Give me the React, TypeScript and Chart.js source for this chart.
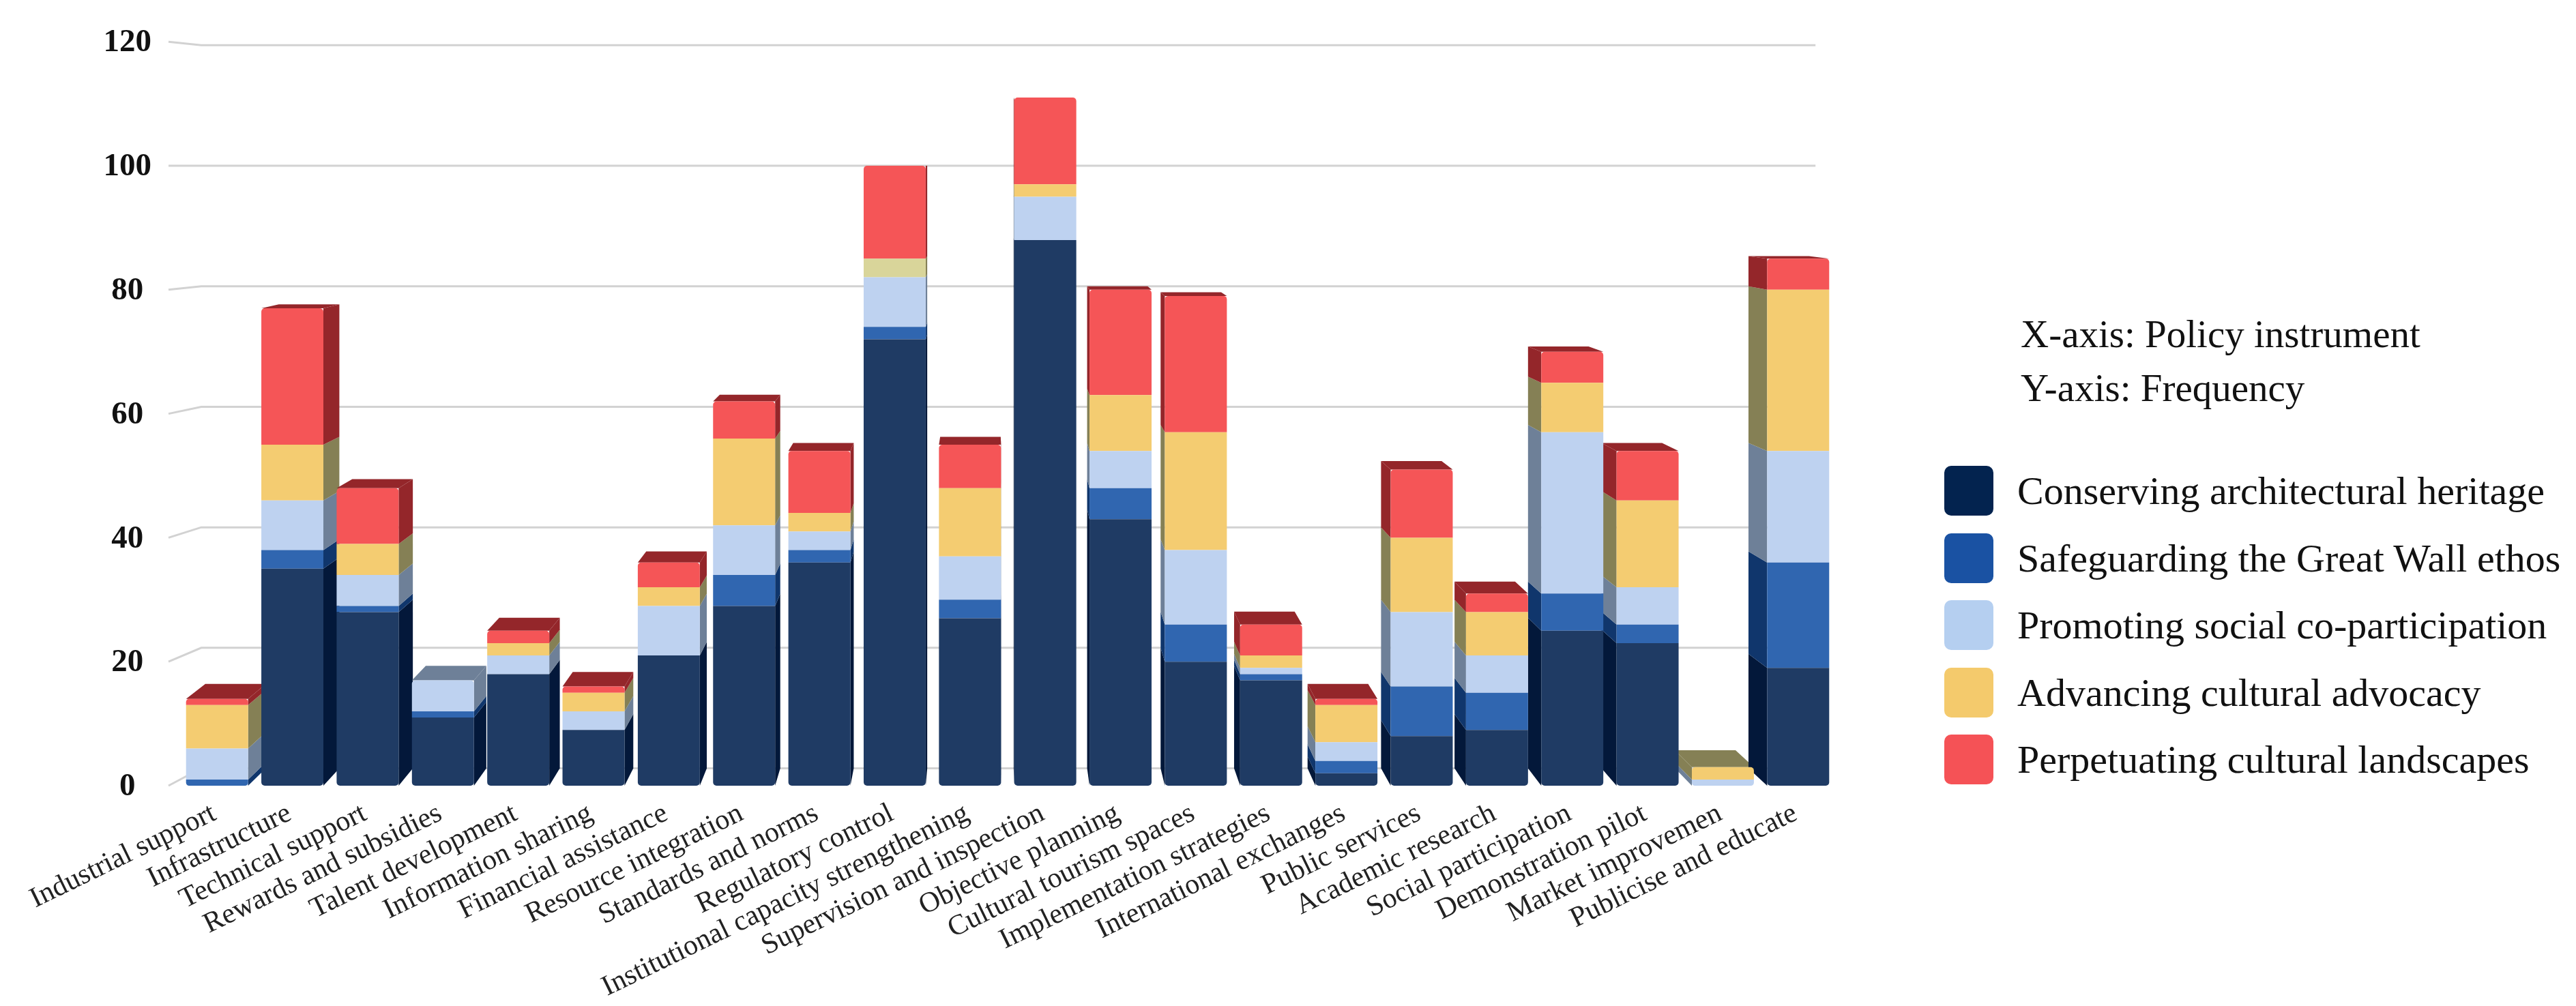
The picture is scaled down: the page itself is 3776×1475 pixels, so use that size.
import React, { useEffect, useRef } from "react";
import { Chart, registerables } from "chart.js";

Chart.register(...registerables);

const categories = [
  "Industrial support", "Infrastructure", "Technical support", "Rewards and subsidies",
  "Talent development", "Information sharing", "Financial assistance", "Resource integration",
  "Standards and norms", "Regulatory control", "Institutional capacity strengthening",
  "Supervision and inspection", "Objective planning", "Cultural tourism spaces",
  "Implementation strategies", "International exchanges", "Public services", "Academic research",
  "Social participation", "Demonstration pilot", "Market improvemen", "Publicise and educate",
];
const seriesNames = [
  "Conserving architectural heritage", "Safeguarding the Great Wall ethos",
  "Promoting social co-participation", "Advancing cultural advocacy", "Perpetuating cultural landscapes",
];
const conserving = [0, 35, 28, 11, 18, 9, 21, 29, 36, 72, 27, 88, 43, 20, 17, 2, 8, 9, 25, 23, 0, 19];
const safeguarding = [1, 3, 1, 1, 0, 0, 0, 5, 2, 2, 3, 0, 5, 6, 1, 2, 8, 6, 6, 3, 0, 17];
const promoting = [5, 8, 5, 5, 3, 3, 8, 8, 3, 8, 7, 7, 6, 12, 1, 3, 12, 6, 26, 6, 1, 18];
const advancing = [7, 9, 5, 0, 2, 3, 3, 14, 3, 3, 11, 2, 9, 19, 2, 6, 12, 7, 8, 14, 2, 26];
const perpetuating = [1, 22, 9, 0, 2, 1, 4, 6, 10, 15, 7, 14, 17, 22, 5, 1, 11, 3, 5, 8, 0, 5];
const seriesValues = [conserving, safeguarding, promoting, advancing, perpetuating];
const frontColors = ["#1f3b64", "#3066b0", "#bed2f0", "#f4cc71", "#f55557"];
const sideColors = ["#03183a", "#10366c", "#6e8098", "#858055", "#94262a"];
const legendColors = ["#03234f", "#1a52a3", "#b5cff0", "#f4ca6c", "#f55256"];
const paleYellow = "#d9d59a";
const paleYellowIndex = 9;
const axisNotes = ["X-axis: Policy instrument", "Y-axis: Frequency"];

const FONT = '"Liberation Serif", serif';
const VANISH_X = 1450;
const VANISH_VALUE = 100;
const DEPTH_X = 0.024;
const DEPTH_Y = 0.028;
const CORNER = 5;

const firstIn = (j: number) => seriesValues.findIndex((v) => v[j] > 0);
const lastIn = (j: number) => {
  for (let i = seriesValues.length - 1; i >= 0; i--) if (seriesValues[i][j] > 0) return i;
  return -1;
};

const depthPlugin = {
  id: "depth",
  beforeDatasetsDraw(chart: any) {
    const { ctx, chartArea, scales } = chart;
    const vy = scales.y.getPixelForValue(VANISH_VALUE);
    const bx = (x: number) => x + (VANISH_X - x) * DEPTH_X;
    const by = (y: number) => y + (vy - y) * DEPTH_Y;
    ctx.save();
    // back wall gridlines with the short slanted stubs toward the axis labels
    ctx.strokeStyle = "#d2d2d2";
    ctx.lineWidth = 3;
    scales.y.ticks.forEach((t: any) => {
      const y = scales.y.getPixelForValue(t.value);
      ctx.beginPath();
      ctx.moveTo(chartArea.left - 16, y);
      ctx.lineTo(chartArea.left + 32, by(y));
      ctx.lineTo(bx(chartArea.right), by(y));
      ctx.stroke();
    });
    // side and top faces
    categories.forEach((_, j) => {
      let topEl: any = null;
      let topColor = "";
      seriesValues.forEach((vals, i) => {
        if (!vals[j]) return;
        const el: any = chart.getDatasetMeta(i).data[j];
        const edge = el.x < VANISH_X ? el.x + el.width / 2 : el.x - el.width / 2;
        ctx.fillStyle = sideColors[i];
        ctx.beginPath();
        ctx.moveTo(edge, el.y);
        ctx.lineTo(edge, el.base);
        ctx.lineTo(bx(edge), by(el.base));
        ctx.lineTo(bx(edge), by(el.y));
        ctx.closePath();
        ctx.fill();
        topEl = el;
        topColor = sideColors[i];
      });
      if (topEl && topEl.y > vy) {
        const l = topEl.x - topEl.width / 2;
        const r = topEl.x + topEl.width / 2;
        ctx.fillStyle = topColor;
        ctx.beginPath();
        ctx.moveTo(l, topEl.y);
        ctx.lineTo(r, topEl.y);
        ctx.lineTo(bx(r), by(topEl.y));
        ctx.lineTo(bx(l), by(topEl.y));
        ctx.closePath();
        ctx.fill();
      }
    });
    ctx.restore();
  },
};

export default function App() {
  const ref = useRef<HTMLCanvasElement>(null);
  useEffect(() => {
    document.body.style.margin = "0";
    const chart = new Chart(ref.current as HTMLCanvasElement, {
      type: "bar",
      data: {
        labels: categories,
        datasets: seriesNames.map((label, i) => ({
          label,
          data: seriesValues[i],
          backgroundColor: (c: any) =>
            i === 3 && c.dataIndex === paleYellowIndex ? paleYellow : frontColors[i],
          borderWidth: 0,
          borderSkipped: false,
          borderRadius: (c: any) => {
            const bottom = firstIn(c.dataIndex) === i ? CORNER : 0;
            const top = lastIn(c.dataIndex) === i ? CORNER : 0;
            return { topLeft: top, topRight: top, bottomLeft: bottom, bottomRight: bottom };
          },
          categoryPercentage: 1,
          barPercentage: 0.824,
        })),
      },
      options: {
        animation: false,
        responsive: false,
        devicePixelRatio: 1,
        layout: { padding: { top: 54, right: 1085, left: 0, bottom: 0 } },
        plugins: { legend: { display: false }, tooltip: { enabled: false } },
        scales: {
          x: {
            stacked: true,
            grid: { display: false },
            border: { display: false },
            afterFit: (s: any) => { s.height = 323; },
            ticks: {
              autoSkip: false,
              minRotation: 26,
              maxRotation: 26,
              padding: 8,
              labelOffset: -4,
              color: "#222",
              font: { family: FONT, size: 42 },
            },
          },
          y: {
            stacked: true,
            min: 0,
            max: 120,
            grid: { display: false },
            border: { display: false },
            afterFit: (s: any) => { s.width = 263; },
            ticks: {
              stepSize: 20,
              padding: 33,
              crossAlign: "center",
              labelOffset: 2,
              color: "#111",
              font: { family: FONT, size: 47, weight: "bold" },
            },
          },
        },
      } as any,
      plugins: [depthPlugin],
    });
    return () => chart.destroy();
  }, []);

  return (
    <div style={{ position: "absolute", left: 0, top: 0, width: 3776, height: 1475, background: "#fff", overflow: "hidden", fontFamily: FONT, color: "#111" }}>
      <canvas ref={ref} width={3776} height={1475} style={{ display: "block", width: 3776, height: 1475 }} />
      {axisNotes.map((t, i) => (
        <div key={t} style={{ position: "absolute", left: 2962, top: 455 + i * 79, fontSize: 57, lineHeight: "70px", whiteSpace: "nowrap" }}>{t}</div>
      ))}
      {seriesNames.map((t, i) => (
        <div key={t}>
          <div style={{ position: "absolute", left: 2850, top: 683 + i * 98.5, width: 72, height: 73, borderRadius: 10, background: legendColors[i] }} />
          <div style={{ position: "absolute", left: 2957, top: 683 + i * 98.5, height: 73, lineHeight: "73px", fontSize: 58, whiteSpace: "nowrap" }}>{t}</div>
        </div>
      ))}
    </div>
  );
}
